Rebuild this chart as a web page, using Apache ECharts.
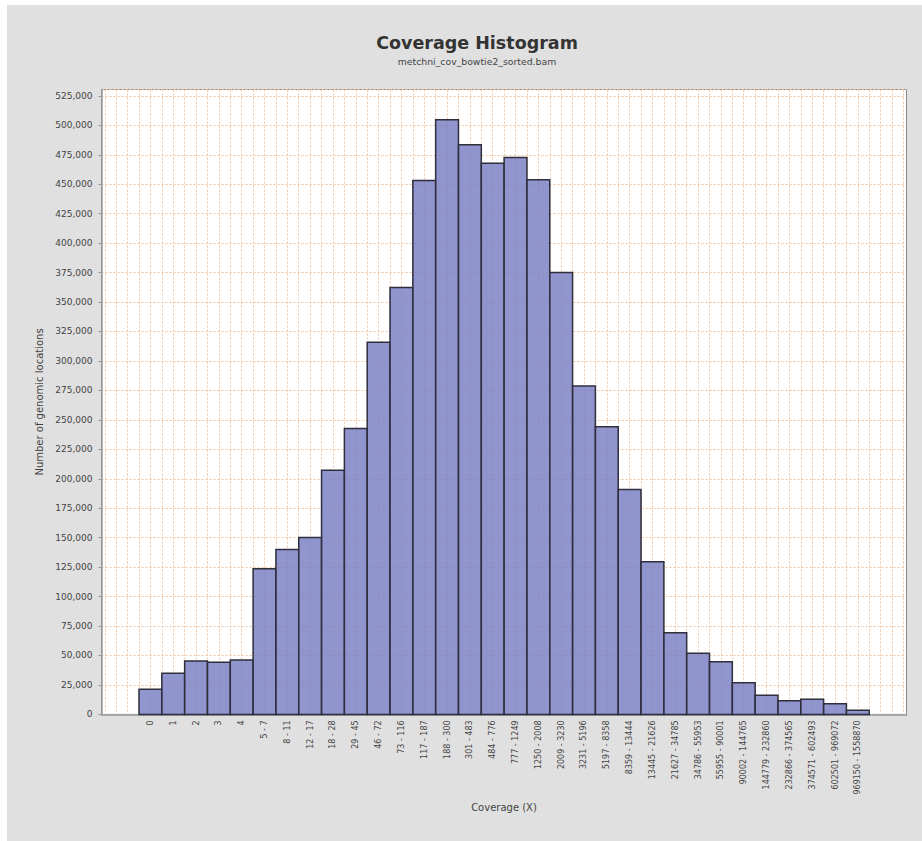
<!DOCTYPE html>
<html>
<head>
<meta charset="utf-8">
<script src="https://cdn.jsdelivr.net/npm/echarts@6/dist/echarts.min.js"></script>
<style>
  html, body { margin: 0; padding: 0; background: #e0e0e0; overflow: hidden; width: 100%; height: 100%; }
  #edgeLeft { position: absolute; left: 0; top: 0; width: 7px; height: 100%; background: #ffffff; }
  #edgeTop { position: absolute; left: 0; top: 0; width: 100%; height: 5px; background: #ffffff; }
  #chart { position: absolute; left: 7px; top: 5px; width: 915px; height: 836px; }
</style>
</head>
<body>
<div id="edgeLeft"></div>
<div id="edgeTop"></div>
<div id="chart"></div>
<script>
// Coverage bins (X) and number of genomic locations per bin
const coverageBins = [
  '0', '1', '2', '3', '4', '5 - 7', '8 - 11', '12 - 17', '18 - 28', '29 - 45',
  '46 - 72', '73 - 116', '117 - 187', '188 - 300', '301 - 483', '484 - 776',
  '777 - 1249', '1250 - 2008', '2009 - 3230', '3231 - 5196', '5197 - 8358',
  '8359 - 13444', '13445 - 21626', '21627 - 34785', '34786 - 55953',
  '55955 - 90001', '90002 - 144765', '144779 - 232860', '232866 - 374565',
  '374571 - 602493', '602501 - 969072', '969150 - 1558870'
];
const locationCounts = [
  21300, 34900, 45300, 44200, 46150, 123600, 140050, 150200, 207300, 242700,
  315900, 362300, 453200, 504800, 483600, 467700, 472600, 453900, 375000,
  278700, 244100, 190950, 129500, 69300, 51800, 44700, 26900, 16200, 11600,
  12800, 9100, 3500
];
const yTickStep = 25000;
const yMax = 530400;

const FONT = 'DejaVu Sans';
const gridDash = { color: '#f0c6a2', width: 1, type: [2, 2] };

const chart = echarts.init(document.getElementById('chart'), null, { renderer: 'svg' });

chart.setOption({
  backgroundColor: '#e0e0e0',
  animation: false,
  title: [
    {
      text: 'Coverage Histogram',
      left: 465, top: 24, textAlign: 'center',
      textStyle: { fontFamily: FONT, fontSize: 17.5, fontWeight: 'bold', color: '#333333' }
    },
    {
      text: 'metchni_cov_bowtie2_sorted.bam',
      left: 465, top: 47, textAlign: 'center',
      textStyle: { fontFamily: FONT, fontSize: 9.3, fontWeight: 'normal', color: '#444444' }
    }
  ],
  grid: [
    // plot area: white background with border, y axis and horizontal gridlines
    { left: 94.5, top: 84.5, width: 805, height: 624.9, show: true,
      backgroundColor: '#ffffff', borderColor: '#888888', borderWidth: 1 },
    // bar domain: coverage bins at unit spacing
    { left: 97.77, top: 84.5, width: 798.7, height: 624.9 }
  ],
  xAxis: [
    {
      type: 'value', gridIndex: 0, min: 0, max: 1, offset: 3,
      axisLine: { show: true, lineStyle: { color: '#a8a8a8', width: 2 } },
      axisTick: { show: false }, axisLabel: { show: false }, splitLine: { show: false },
      name: 'Coverage (X)', nameLocation: 'middle', nameGap: 85,
      nameTextStyle: { fontFamily: FONT, fontSize: 10, color: '#444444' }
    },
    {
      type: 'value', gridIndex: 1, min: -2, max: 33, interval: 0.5,
      axisLine: { show: false }, axisTick: { show: false },
      splitLine: { show: true, lineStyle: gridDash },
      axisLabel: {
        show: true, interval: 0, rotate: 90, margin: 6,
        fontFamily: FONT, fontSize: 8, color: '#444444',
        showMinLabel: true, showMaxLabel: true,
        formatter: function (v) {
          const i = Math.round(v);
          if (Math.abs(v - i) > 1e-6 || i < 0 || i >= coverageBins.length) return '';
          return coverageBins[i];
        }
      }
    }
  ],
  yAxis: [
    {
      type: 'value', gridIndex: 0, min: 0, max: yMax, interval: yTickStep, offset: 4,
      axisLine: { show: true, lineStyle: { color: '#9a9a9a', width: 1.5 } },
      axisTick: { show: true, length: 3, lineStyle: { color: '#9a9a9a' } },
      axisLabel: {
        margin: 5, fontFamily: FONT, fontSize: 9, color: '#444444', showMaxLabel: false,
        formatter: function (v) {
          return v % yTickStep === 0 ? v.toLocaleString('en-US') : '';
        }
      },
      splitLine: { show: true, lineStyle: gridDash },
      name: 'Number of genomic locations', nameLocation: 'middle', nameGap: 48,
      nameRotate: 90,
      nameTextStyle: { fontFamily: FONT, fontSize: 10, color: '#444444' }
    },
    {
      type: 'value', gridIndex: 1, min: 0, max: yMax, show: false
    }
  ],
  series: [
    {
      type: 'custom',
      xAxisIndex: 1, yAxisIndex: 1,
      encode: { x: 0, y: 1 },
      data: locationCounts.map(function (v, i) { return [i, v]; }),
      renderItem: function (params, api) {
        const i = api.value(0);
        const top = api.coord([i - 0.5, api.value(1)]);
        const base = api.coord([i + 0.5, 0]);
        return {
          type: 'rect',
          shape: { x: top[0], y: top[1], width: base[0] - top[0], height: base[1] - top[1] },
          style: { fill: 'rgba(118,122,192,0.8)', stroke: '#2e2e3c', lineWidth: 1.5 }
        };
      }
    }
  ]
});
</script>
</body>
</html>
